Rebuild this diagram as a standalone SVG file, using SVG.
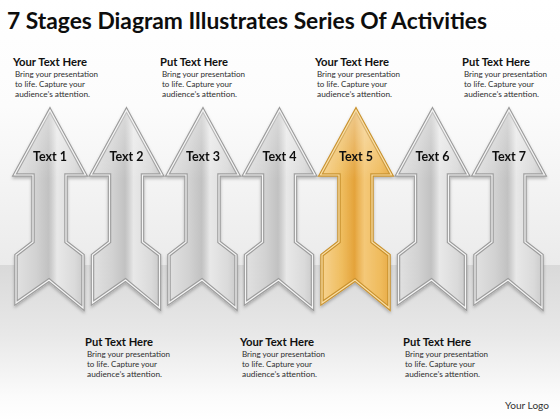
<svg xmlns="http://www.w3.org/2000/svg" xmlns:xlink="http://www.w3.org/1999/xlink" width="560" height="420" viewBox="0 0 560 420">
  <defs>
    <linearGradient id="wall" x1="0" y1="0" x2="0" y2="1">
      <stop offset="0" stop-color="#ffffff"/>
      <stop offset="0.4" stop-color="#fcfcfc"/>
      <stop offset="1" stop-color="#ebebeb"/>
    </linearGradient>
    <linearGradient id="floor" x1="0" y1="0" x2="0" y2="1">
      <stop offset="0" stop-color="#d9d9d9"/>
      <stop offset="0.45" stop-color="#e8e8e8"/>
      <stop offset="0.85" stop-color="#fbfbfb"/>
      <stop offset="1" stop-color="#ffffff"/>
    </linearGradient>
    <linearGradient id="silver" x1="0" y1="0" x2="1" y2="0">
      <stop offset="0" stop-color="#e2e2e2"/>
      <stop offset="0.3" stop-color="#d2d2d2"/>
      <stop offset="0.48" stop-color="#c2c2c2"/>
      <stop offset="0.52" stop-color="#cdcdcd"/>
      <stop offset="0.6" stop-color="#e8e8e8"/>
      <stop offset="0.85" stop-color="#dadada"/>
      <stop offset="1" stop-color="#c6c6c6"/>
    </linearGradient>
    <linearGradient id="gold" x1="0" y1="0" x2="1" y2="0">
      <stop offset="0" stop-color="#f7d493"/>
      <stop offset="0.3" stop-color="#efbd5f"/>
      <stop offset="0.48" stop-color="#e4a33b"/>
      <stop offset="0.53" stop-color="#eab254"/>
      <stop offset="0.62" stop-color="#f4c878"/>
      <stop offset="0.85" stop-color="#efbb5c"/>
      <stop offset="1" stop-color="#e6a843"/>
    </linearGradient>
    <linearGradient id="headshine" x1="0" y1="0" x2="0" y2="1">
      <stop offset="0" stop-color="#ffffff" stop-opacity="0.4"/>
      <stop offset="0.35" stop-color="#ffffff" stop-opacity="0"/>
    </linearGradient>
    <filter id="shadow" x="-20%" y="-10%" width="140%" height="130%">
      <feDropShadow dx="0" dy="2" stdDeviation="1.5" flood-color="#000" flood-opacity="0.25"/>
    </filter>
    <path id="arrow" d="M0,110 L35.5,175 L16,175 L16,242 L33,255 L33,308 L-1,280 L-34,303 L-34,255 L-17,242 L-17,175 L-35.5,175 Z"/>
    <style>
      .title{font-family:Lato,"Open Sans","Liberation Sans",sans-serif;font-weight:bold;font-size:23px;fill:#0d0d0d}
      .head{font-family:Lato,"Open Sans","Liberation Sans",sans-serif;font-weight:bold;font-size:10.5px;fill:#111}
      .body{font-family:Lato,"Open Sans","Liberation Sans",sans-serif;font-size:7.8px;fill:#2e2e2e}
      .lbl{font-family:Lato,"Open Sans","Liberation Sans",sans-serif;font-weight:bold;font-size:12.5px;fill:#111;text-anchor:middle}
      .logo{font-family:Lato,"Open Sans","Liberation Sans",sans-serif;font-size:10px;fill:#333}
      .s-out{fill:url(#silver);stroke:#9c9c9c;stroke-width:3.5;stroke-linejoin:miter}
      .s-in{fill:url(#headshine);stroke:#f5f5f5;stroke-width:1.2}
      .g-out{fill:url(#gold);stroke:#c9922e;stroke-width:3.5;stroke-linejoin:miter}
      .g-in{fill:url(#headshine);stroke:#fbe0a8;stroke-width:1.2}
    </style>
  </defs>

  <rect x="0" y="0" width="560" height="265" fill="url(#wall)"/>
  <rect x="0" y="265" width="560" height="155" fill="url(#floor)"/>

  <text class="title" x="7" y="29" textLength="480" lengthAdjust="spacingAndGlyphs">7 Stages Diagram Illustrates Series Of Activities</text>

  <g id="arrow1" filter="url(#shadow)">
    <use xlink:href="#arrow" href="#arrow" transform="translate(50,0)" class="s-out"/>
    <use xlink:href="#arrow" href="#arrow" transform="translate(50,0)" class="s-in"/>
    <text class="lbl" x="50" y="161">Text 1</text>
  </g>
  <g id="arrow2" filter="url(#shadow)">
    <use xlink:href="#arrow" href="#arrow" transform="translate(126.5,0)" class="s-out"/>
    <use xlink:href="#arrow" href="#arrow" transform="translate(126.5,0)" class="s-in"/>
    <text class="lbl" x="126.5" y="161">Text 2</text>
  </g>
  <g id="arrow3" filter="url(#shadow)">
    <use xlink:href="#arrow" href="#arrow" transform="translate(203,0)" class="s-out"/>
    <use xlink:href="#arrow" href="#arrow" transform="translate(203,0)" class="s-in"/>
    <text class="lbl" x="203" y="161">Text 3</text>
  </g>
  <g id="arrow4" filter="url(#shadow)">
    <use xlink:href="#arrow" href="#arrow" transform="translate(279.5,0)" class="s-out"/>
    <use xlink:href="#arrow" href="#arrow" transform="translate(279.5,0)" class="s-in"/>
    <text class="lbl" x="279.5" y="161">Text 4</text>
  </g>
  <g id="arrow5" filter="url(#shadow)">
    <use xlink:href="#arrow" href="#arrow" transform="translate(356,0)" class="g-out"/>
    <use xlink:href="#arrow" href="#arrow" transform="translate(356,0)" class="g-in"/>
    <text class="lbl" x="356" y="161">Text 5</text>
  </g>
  <g id="arrow6" filter="url(#shadow)">
    <use xlink:href="#arrow" href="#arrow" transform="translate(432.5,0)" class="s-out"/>
    <use xlink:href="#arrow" href="#arrow" transform="translate(432.5,0)" class="s-in"/>
    <text class="lbl" x="432.5" y="161">Text 6</text>
  </g>
  <g id="arrow7" filter="url(#shadow)">
    <use xlink:href="#arrow" href="#arrow" transform="translate(509,0)" class="s-out"/>
    <use xlink:href="#arrow" href="#arrow" transform="translate(509,0)" class="s-in"/>
    <text class="lbl" x="509" y="161">Text 7</text>
  </g>

  <g id="connectors"/>

  <g id="note1">
    <text class="head" x="13" y="66" textLength="74" lengthAdjust="spacingAndGlyphs">Your Text Here</text>
    <text class="body" x="15" y="77" textLength="83" lengthAdjust="spacingAndGlyphs">Bring your presentation</text>
    <text class="body" x="15" y="87" textLength="70" lengthAdjust="spacingAndGlyphs">to life. Capture your</text>
    <text class="body" x="15" y="97" textLength="75" lengthAdjust="spacingAndGlyphs">audience’s attention.</text>
  </g>
  <g id="note3">
    <text class="head" x="160" y="66" textLength="68" lengthAdjust="spacingAndGlyphs">Put Text Here</text>
    <text class="body" x="162" y="77" textLength="83" lengthAdjust="spacingAndGlyphs">Bring your presentation</text>
    <text class="body" x="162" y="87" textLength="70" lengthAdjust="spacingAndGlyphs">to life. Capture your</text>
    <text class="body" x="162" y="97" textLength="75" lengthAdjust="spacingAndGlyphs">audience’s attention.</text>
  </g>
  <g id="note5">
    <text class="head" x="315" y="66" textLength="74" lengthAdjust="spacingAndGlyphs">Your Text Here</text>
    <text class="body" x="317" y="77" textLength="83" lengthAdjust="spacingAndGlyphs">Bring your presentation</text>
    <text class="body" x="317" y="87" textLength="70" lengthAdjust="spacingAndGlyphs">to life. Capture your</text>
    <text class="body" x="317" y="97" textLength="75" lengthAdjust="spacingAndGlyphs">audience’s attention.</text>
  </g>
  <g id="note7">
    <text class="head" x="462" y="66" textLength="68" lengthAdjust="spacingAndGlyphs">Put Text Here</text>
    <text class="body" x="464" y="77" textLength="83" lengthAdjust="spacingAndGlyphs">Bring your presentation</text>
    <text class="body" x="464" y="87" textLength="70" lengthAdjust="spacingAndGlyphs">to life. Capture your</text>
    <text class="body" x="464" y="97" textLength="75" lengthAdjust="spacingAndGlyphs">audience’s attention.</text>
  </g>

  <g id="note2">
    <text class="head" x="85" y="346" textLength="68" lengthAdjust="spacingAndGlyphs">Put Text Here</text>
    <text class="body" x="87" y="357" textLength="83" lengthAdjust="spacingAndGlyphs">Bring your presentation</text>
    <text class="body" x="87" y="367" textLength="70" lengthAdjust="spacingAndGlyphs">to life. Capture your</text>
    <text class="body" x="87" y="377" textLength="75" lengthAdjust="spacingAndGlyphs">audience’s attention.</text>
  </g>
  <g id="note4">
    <text class="head" x="240" y="346" textLength="74" lengthAdjust="spacingAndGlyphs">Your Text Here</text>
    <text class="body" x="242" y="357" textLength="83" lengthAdjust="spacingAndGlyphs">Bring your presentation</text>
    <text class="body" x="242" y="367" textLength="70" lengthAdjust="spacingAndGlyphs">to life. Capture your</text>
    <text class="body" x="242" y="377" textLength="75" lengthAdjust="spacingAndGlyphs">audience’s attention.</text>
  </g>
  <g id="note6">
    <text class="head" x="403" y="346" textLength="68" lengthAdjust="spacingAndGlyphs">Put Text Here</text>
    <text class="body" x="405" y="357" textLength="83" lengthAdjust="spacingAndGlyphs">Bring your presentation</text>
    <text class="body" x="405" y="367" textLength="70" lengthAdjust="spacingAndGlyphs">to life. Capture your</text>
    <text class="body" x="405" y="377" textLength="75" lengthAdjust="spacingAndGlyphs">audience’s attention.</text>
  </g>

  <text id="logo" class="logo" x="505" y="409" textLength="44" lengthAdjust="spacingAndGlyphs">Your Logo</text>
</svg>
